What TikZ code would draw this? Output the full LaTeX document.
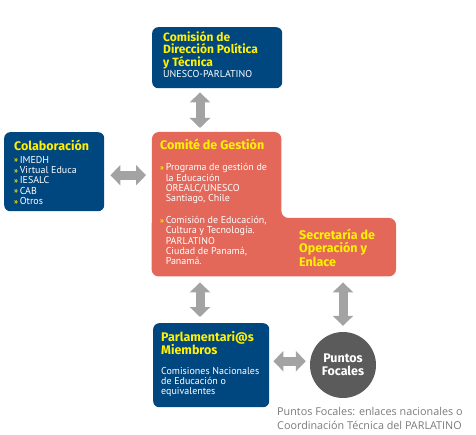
\documentclass[tikz,border=0pt]{standalone}
\usepackage{fontspec}
\setmainfont{PT Sans}
\newfontfamily\titfont{Fira Sans}
\newfontfamily\notafont{Open Sans}
\usepackage{xcolor}
\usetikzlibrary{positioning,arrows.meta}

\definecolor{azul}{HTML}{00467F}
\definecolor{rojo}{HTML}{E3685A}
\definecolor{amarillo}{HTML}{FFF200}
\definecolor{flecha}{HTML}{A3A3A3}
\definecolor{foco}{HTML}{5B5B5B}
\definecolor{nota}{HTML}{7A7A7A}
\newcommand{\bul}{{\color{amarillo}\footnotesize\bfseries\raisebox{0.1ex}{»}}\,}

\begin{document}
\begin{tikzpicture}[
    x=1pt,
    y=-1pt
]

\tikzstyle{caja}=[
    fill=azul,
    rounded corners=6pt,
    anchor=north west,
    inner sep=0pt
]
\tikzstyle{titulo}=[
    anchor=north west,
    inner sep=0pt,
    align=left,
    text=amarillo,
    font=\titfont\bfseries\fontsize{12.5}{13.3}\selectfont
]
\tikzstyle{cuerpo}=[
    anchor=north west,
    inner sep=0pt,
    align=left,
    text=white,
    font=\fontsize{10}{10.3}\selectfont
]
\tikzstyle{flechas}=[
    draw=flecha,
    line width=9pt,
    {Triangle[width=20pt,length=10pt]}-{Triangle[width=20pt,length=10pt]}
]

\useasboundingbox (0,0) rectangle (476,435);

% cajas
\node[caja, minimum width=130pt, minimum height=61pt] (cpt) at (152,27) {};
\node[caja, minimum width=100pt, minimum height=79pt] (colab) at (4,132) {};
\node[caja, minimum width=116pt, minimum height=84pt] (parl) at (153,323) {};
\node[circle, fill=foco, minimum size=66pt, inner sep=0pt, align=center, text=white,
      font=\titfont\bfseries\fontsize{12.5}{12.5}\selectfont] (focal) at (343,365) {Puntos\\Focales};

\node[anchor=north west, minimum width=129pt, minimum height=144pt, inner sep=0pt] (gestion) at (152,132) {};
\node[anchor=north east, minimum width=244pt, minimum height=58pt, inner sep=0pt] (secretaria) at (396,218) {};
\fill[rojo, rounded corners=7pt] (gestion.north) -- (gestion.north east)
    -- (gestion.east |- secretaria.north) -- (secretaria.north east)
    -- (secretaria.south east) -- (secretaria.south west)
    -- (gestion.north west) -- cycle;

% textos
\node[titulo, font=\titfont\bfseries\fontsize{12}{12.5}\selectfont] (tcpt) at (163,31) {Comisión de\\Dirección Política\\y Técnica};
\node[cuerpo] (ucpt) at (163,70) {UNESCO-PARLATINO};

\node[titulo] (tcolab) at (14,140) {Colaboración};
\node[cuerpo] (lcolab) at (14,156)
    {\bul IMEDH\\\bul Virtual Educa\\\bul IESALC\\\bul CAB\\\bul Otros};

\node[titulo] (tgestion) at (160,139) {Comité de Gestión};
\node[cuerpo] (g1) at (160,163.5) {\begin{tabular}{@{}l@{}l@{}}
    \bul & Programa de gestión de\\ & la Educación\\ & OREALC/UNESCO\\ & Santiago, Chile
\end{tabular}};
\node[cuerpo] (g2) at (160,216) {\begin{tabular}{@{}l@{}l@{}}
    \bul & Comisión de Educación,\\ & Cultura y Tecnología.\\ & PARLATINO\\ & Ciudad de Panamá,\\ & Panamá.
\end{tabular}};

\node[titulo] (tsecretaria) at (299,229) {Secretaría de\\Operación y\\Enlace};

\node[titulo] (tparl) at (161,331) {Parlamentari@s\\Miembros};
\node[cuerpo] (lparl) at (161,367) {Comisiones Nacionales\\de Educación o\\equivalentes};

\node[anchor=north west, inner sep=0pt, align=left, text=nota,
      font=\notafont\fontsize{10.8}{14}\selectfont] (nota) at (277,407)
    {Puntos Focales: enlaces nacionales o\\Coordinación Técnica del PARLATINO};

% flechas
\coordinate (eje) at (200,0);
\draw[flechas, shorten <=4pt, shorten >=4pt] (cpt.south -| eje) -- (gestion.north -| eje);
\draw[flechas, shorten <=6pt, shorten >=6pt] ([yshift=-3.5pt]colab.east) -- ([yshift=-3.5pt]colab.east -| gestion.west);
\draw[flechas, shorten <=6pt, shorten >=6pt] (gestion.south -| eje) -- (parl.north -| eje);
\draw[flechas, shorten <=6pt, shorten >=6pt] (secretaria.south -| focal) -- (focal.north);
\draw[flechas, shorten <=4pt, shorten >=4pt] ([yshift=4pt]parl.east) -- ([yshift=4pt]parl.east -| focal.west);

\end{tikzpicture}
\end{document}
